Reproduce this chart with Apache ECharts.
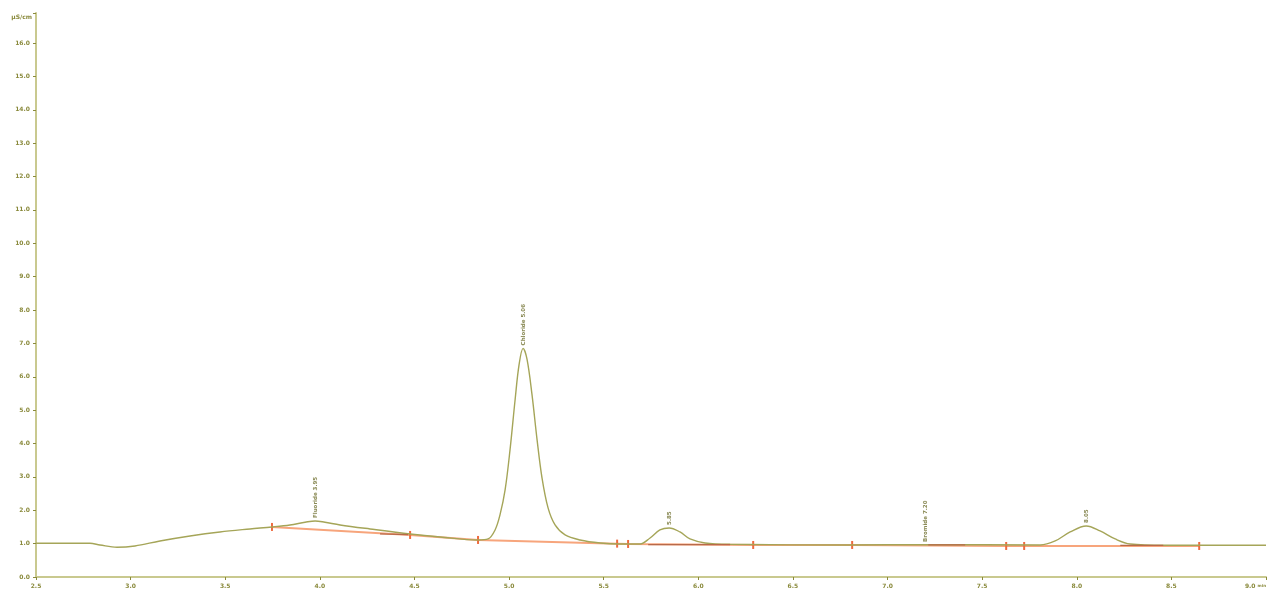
<!DOCTYPE html>
<html>
<head>
<meta charset="utf-8">
<script src="https://cdn.jsdelivr.net/npm/echarts@6/dist/echarts.min.js"></script>
<style>html,body{margin:0;padding:0;background:#fff;}#c{width:1270px;height:590px;}</style>
</head>
<body>
<div id="c"></div>
<script>
// Chromatogram trace: retention time (min) and signal (µS/cm)
const traceTime = [2.500,2.627,2.785,2.838,2.928,3.023,3.155,3.314,3.472,3.631,3.747,3.842,3.922,3.975,4.027,4.107,4.265,4.477,4.635,4.836,
  4.889,4.926,4.952,4.979,5.005,5.032,5.053,5.074,5.095,5.121,5.148,5.174,5.206,5.243,5.296,5.375,5.481,5.587,
  5.692,5.745,5.797,5.846,5.903,5.956,6.036,6.168,6.802,7.199,7.807,7.886,7.965,8.050,8.123,8.203,8.282,8.467,9.000];
const traceValue = [1.01,1.01,1.01,0.96,0.89,0.93,1.08,1.23,1.35,1.44,1.50,1.56,1.64,1.68,1.64,1.56,1.44,1.29,1.20,1.11,
  1.14,1.41,1.86,2.61,3.81,5.32,6.37,6.85,6.52,5.47,4.11,2.97,2.07,1.56,1.26,1.11,1.02,0.99,
  0.99,1.17,1.41,1.47,1.35,1.14,1.02,0.98,0.96,0.97,0.96,1.08,1.35,1.53,1.38,1.14,0.99,0.95,0.95];

// Integration baseline points (peak start/end markers)
const baseTime = [3.747,4.477,4.836,5.571,5.629,6.290,6.813,7.627,7.722,8.647];
const baseValue = [1.50,1.26,1.11,1.00,0.99,0.96,0.96,0.93,0.93,0.93];

// Peak end segments (darker)
const endSegTime = [4.318,4.466,null,5.735,6.168,null,7.215,7.410,null,8.230,8.457];
const endSegValue = [1.29,1.27,null,0.97,0.97,null,0.96,0.96,null,0.95,0.95];

// Peak labels
const peakNames = ['Fluoride 3.95','Chloride 5.06','5.85','Bromide 7.20','8.05'];
const peakTimes = [3.975,5.074,5.846,7.199,8.050];
const peakHeights = [1.68,6.85,1.47,0.96,1.53];

// Axis settings
const yMin = 0, yMax = 16.9, yStep = 1;
const xMin = 2.5, xMax = 9.0, xStep = 0.5;
const xUnit = 'min', yUnit = 'µS/cm';

const zip = (a,b) => a.map((v,i) => v === null ? [null,null] : [v,b[i]]);

const axisCol = '#c9c98f';
const labCol = '#8a8a3c';

const chart = echarts.init(document.getElementById('c'), null, {renderer:'canvas'});
chart.setOption({
  animation:false,
  backgroundColor:'#ffffff',
  grid:{left:36,right:4,top:13,bottom:13,containLabel:false,outerBoundsMode:'none'},
  xAxis:{
    type:'value',min:xMin,max:xMax,interval:xStep,
    axisLine:{show:true,lineStyle:{color:axisCol,width:2}},
    axisTick:{show:true,length:3,lineStyle:{color:labCol,width:1}},
    axisLabel:{color:labCol,fontSize:6,fontWeight:'bold',margin:6,fontFamily:'DejaVu Sans',
      alignMaxLabel:'right',
      formatter:v=> v >= xMax ? '{a|' + v.toFixed(1) + '} {b|' + xUnit + '}' : v.toFixed(1),
      rich:{a:{color:labCol,fontSize:6,fontWeight:'bold',fontFamily:'DejaVu Sans'},
            b:{color:labCol,fontSize:4,fontFamily:'DejaVu Sans'}}},
    splitLine:{show:false}
  },
  yAxis:{
    type:'value',min:yMin,max:yMax,interval:yStep,
    name:yUnit,nameLocation:'end',nameGap:-4,
    nameTextStyle:{color:labCol,fontSize:6,fontWeight:'bold',align:'right',verticalAlign:'middle',padding:[0,4,0,0],fontFamily:'DejaVu Sans'},
    axisLine:{show:true,lineStyle:{color:axisCol,width:2}},
    axisTick:{show:true,length:3,lineStyle:{color:labCol,width:1}},
    axisLabel:{color:labCol,fontSize:6,fontWeight:'bold',margin:6,fontFamily:'DejaVu Sans',
      formatter:v=> Math.abs(v-Math.round(v))<1e-6 ? v.toFixed(1) : ''},
    splitLine:{show:false}
  },
  series:[
    {
      type:'line',data:zip(baseTime,baseValue),
      lineStyle:{color:'#f7a57c',width:2},
      symbol:'rect',symbolSize:[2,8],showSymbol:true,
      itemStyle:{color:'#ef6a3e'},z:2,silent:true
    },
    {
      type:'line',data:zip(traceTime,traceValue),smooth:0.35,
      lineStyle:{color:'#a5a558',width:1.4},
      symbol:'none',z:3,silent:true
    },
    {
      type:'line',data:zip(endSegTime,endSegValue),connectNulls:false,
      lineStyle:{color:'#b86a4a',width:1.3},
      symbol:'none',z:4,silent:true
    },
    {
      type:'scatter',data:zip(peakTimes,peakHeights),
      symbolSize:0,z:5,silent:true,
      label:{show:true,rotate:90,position:'top',distance:3,align:'left',verticalAlign:'middle',
        color:'#6d6d2a',fontSize:5.5,fontWeight:'bold',fontFamily:'DejaVu Sans',
        formatter:p=>peakNames[p.dataIndex]}
    }
  ]
});
</script>
</body>
</html>
